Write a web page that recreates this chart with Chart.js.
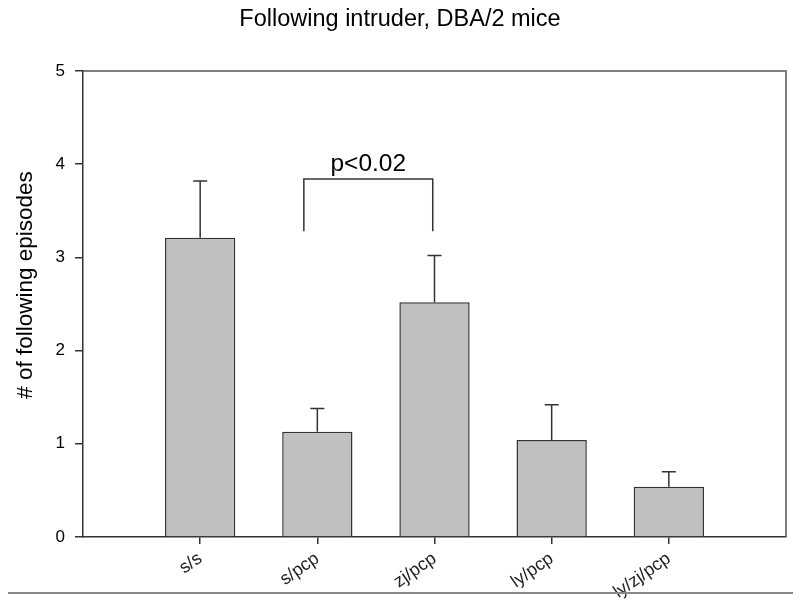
<!DOCTYPE html>
<html>
<head>
<meta charset="utf-8">
<script src="https://cdn.jsdelivr.net/npm/chart.js@4"></script>
<style>
  html, body { margin: 0; padding: 0; background: #fff; }
  #wrap { width: 800px; height: 606px; }
</style>
</head>
<body>
<div id="wrap"><canvas id="myChart" width="800" height="606"></canvas></div>
<script>
// Data
const categories = ["s/s", "s/pcp", "zj/pcp", "ly/pcp", "ly/zj/pcp"];
const means = [3.21, 1.13, 2.52, 1.04, 0.54];
const sems = [0.61, 0.25, 0.50, 0.38, 0.16];
const yTicks = [0, 1, 2, 3, 4, 5];
// significance bracket between s/pcp and zj/pcp
const bracketX = [1.885, 2.985];
const bracketY = [3.28, 3.84];
const bracketLabel = "p<0.02";

const FONT = "'Liberation Sans', Arial, sans-serif";
const dark = "#333333";

// Error bars, bracket, y title and frame
const extras = {
  id: "extras",
  afterDatasetsDraw(chart) {
    const ctx = chart.ctx;
    const x = chart.scales.x;
    const y = chart.scales.y;
    const area = chart.chartArea;
    ctx.save();
    ctx.strokeStyle = dark;
    ctx.lineWidth = 1.5;

    // error bars (upper only)
    means.forEach((m, i) => {
      const px = x.getPixelForValue(i + 1);
      const top = y.getPixelForValue(m + sems[i]);
      ctx.beginPath();
      ctx.moveTo(px, y.getPixelForValue(m));
      ctx.lineTo(px, top);
      ctx.moveTo(px - 7, top);
      ctx.lineTo(px + 7, top);
      ctx.stroke();
    });

    // bracket
    const bl = x.getPixelForValue(bracketX[0]);
    const br = x.getPixelForValue(bracketX[1]);
    const bb = y.getPixelForValue(bracketY[0]);
    const bt = y.getPixelForValue(bracketY[1]);
    ctx.beginPath();
    ctx.moveTo(bl, bb);
    ctx.lineTo(bl, bt);
    ctx.lineTo(br, bt);
    ctx.lineTo(br, bb);
    ctx.stroke();
    ctx.fillStyle = "#000";
    ctx.font = "24.5px " + FONT;
    ctx.textAlign = "center";
    ctx.textBaseline = "alphabetic";
    ctx.fillText(bracketLabel, (bl + br) / 2, bt - 8);

    // top and right frame
    ctx.strokeStyle = "#555";
    ctx.beginPath();
    ctx.moveTo(area.left, area.top);
    ctx.lineTo(area.right, area.top);
    ctx.lineTo(area.right, area.bottom);
    ctx.stroke();

    // y axis title
    ctx.save();
    ctx.translate(26, 285);
    ctx.rotate(-Math.PI / 2);
    ctx.textBaseline = "middle";
    ctx.font = "22.5px " + FONT;
    ctx.fillText("# of following episodes", 0, 0);
    ctx.restore();

    // separator line under the chart
    ctx.strokeStyle = "#888";
    ctx.lineWidth = 2;
    ctx.beginPath();
    ctx.moveTo(8, 593);
    ctx.lineTo(793, 593);
    ctx.stroke();
    ctx.restore();
  }
};

const ctx = document.getElementById("myChart").getContext("2d");
const myChart = new Chart(ctx, {
  type: "bar",
  data: {
    datasets: [
      {
        label: "Following episodes",
        data: means.map((m, i) => ({ x: i + 1, y: m })),
        backgroundColor: "#c0c0c0",
        borderColor: dark,
        borderWidth: 1.5,
        barPercentage: 0.6,
        categoryPercentage: 1.0,
      },
    ],
  },
  options: {
    responsive: false,
    animation: false,
    layout: { padding: { left: 14, right: 14, top: 0, bottom: 0 } },
    plugins: {
      legend: { display: false },
      tooltip: { enabled: false },
      title: {
        display: true,
        text: "Following intruder, DBA/2 mice",
        color: "#000",
        font: { size: 23.5, family: FONT, weight: "normal", lineHeight: 1.2 },
        padding: { top: 5, bottom: 37.8 },
      },
    },
    scales: {
      x: {
        type: "linear",
        offset: false,
        min: 0,
        max: 6,
        afterBuildTicks: (scale) => {
          scale.ticks = categories.map((c, i) => ({ value: i + 1 }));
        },
        afterFit: (scale) => { scale.height = 69; },
        ticks: {
          autoSkip: false,
          minRotation: 35,
          maxRotation: 35,
          padding: 4,
          color: "#222",
          font: { size: 18, family: FONT },
          callback: (value) => categories[value - 1],
        },
        grid: {
          display: true,
          offset: false,
          drawOnChartArea: false,
          drawTicks: true,
          tickLength: 7,
          color: dark,
          lineWidth: 1.5,
        },
        border: { display: true, color: dark, width: 1.5 },
      },
      y: {
        min: 0,
        max: 5,
        afterBuildTicks: (scale) => {
          scale.ticks = yTicks.map((v) => ({ value: v }));
        },
        afterFit: (scale) => { scale.width = 69; },
        ticks: {
          padding: 10,
          color: "#000",
          font: { size: 17, family: FONT },
        },
        grid: {
          display: true,
          drawOnChartArea: false,
          drawTicks: true,
          tickLength: 8,
          color: dark,
          lineWidth: 1.5,
        },
        border: { display: true, color: dark, width: 1.5 },
      },
    },
  },
  plugins: [extras],
});
</script>
</body>
</html>
